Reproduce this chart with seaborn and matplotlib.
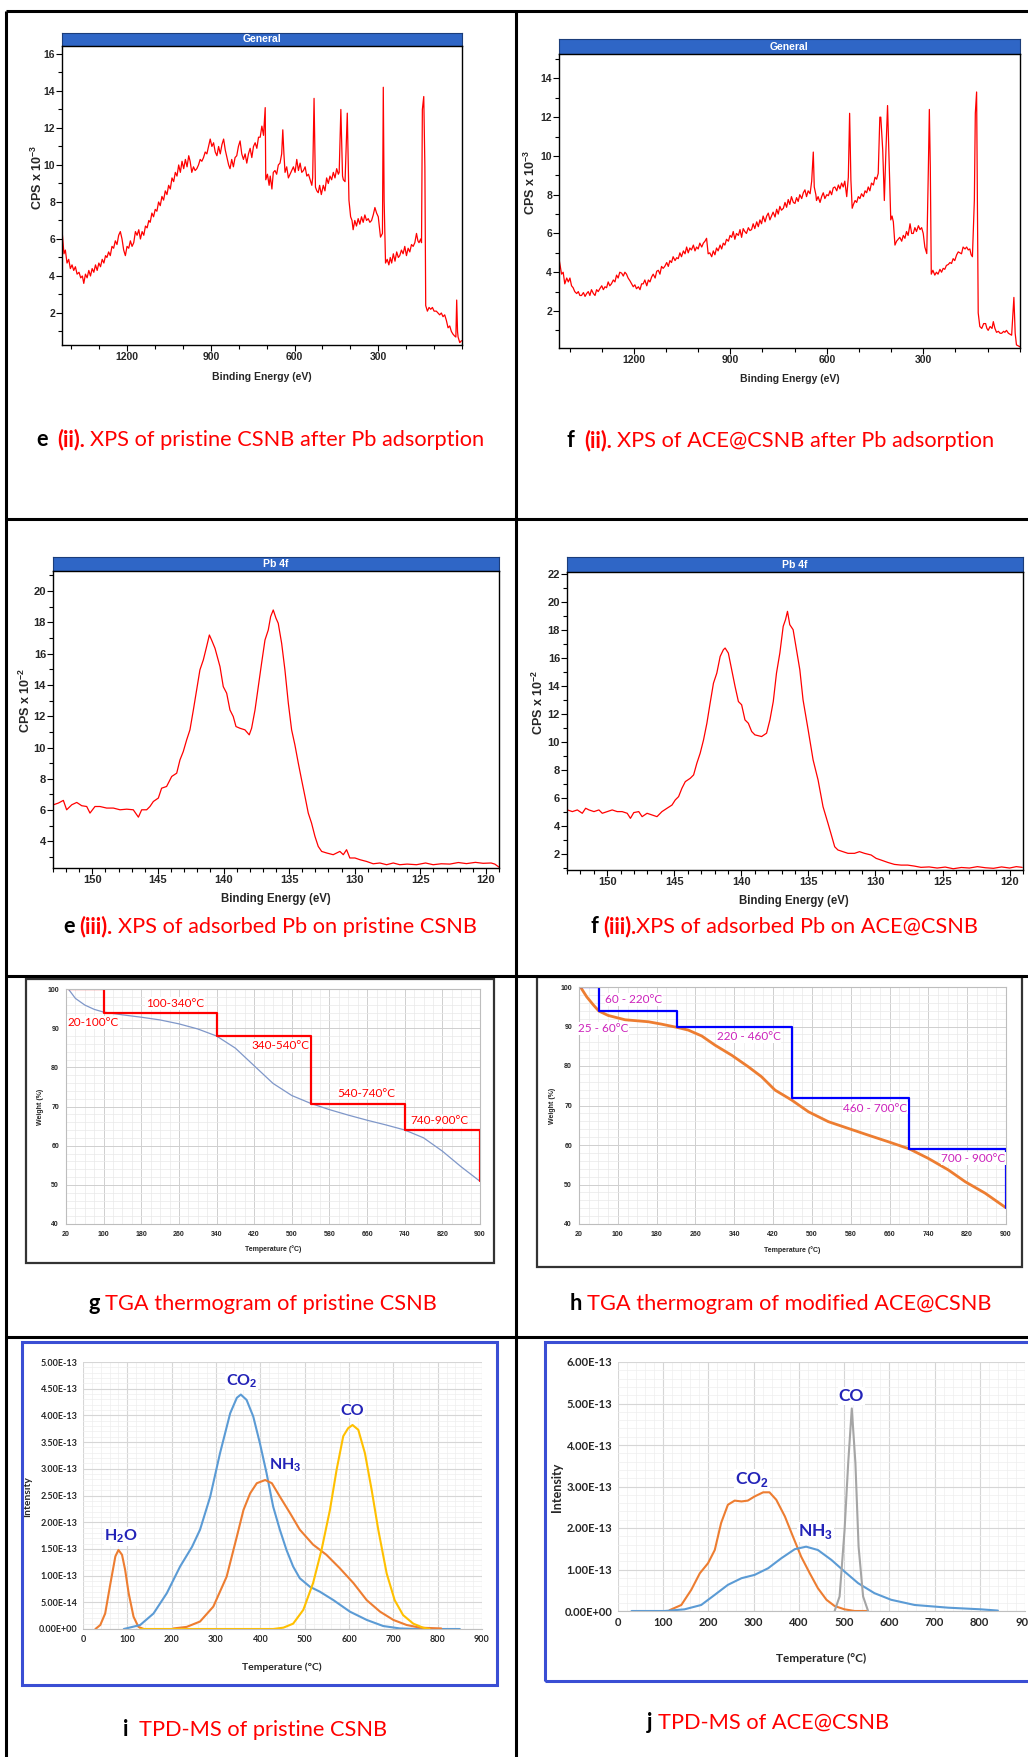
import numpy as np
import seaborn as sns
import matplotlib.pyplot as plt
from matplotlib.lines import Line2D
from matplotlib.patches import Rectangle
from matplotlib.ticker import MultipleLocator


# -------------------------------------------------
# CONFIG
# -------------------------------------------------
W, H = 1028, 1757
DPI = 100
OUTPUT_PATH = "out.png"

XPS_FONT = "Liberation Sans"
LABEL_FONT = "Lato"
CAPTION_SIZE = 15.7
RED = "#FF0000"


# -------------------------------------------------
# DATA : XPS survey spectra (binding energy eV, CPS x 10^-3)
# -------------------------------------------------
E2_EV = [1432, 1428, 1426, 1421, 1415, 1409, 1403, 1397, 1391, 1385,
         1379, 1372, 1366, 1360, 1355, 1349, 1343, 1337, 1331, 1325,
         1319, 1313, 1307, 1301, 1295, 1289, 1283, 1277, 1272, 1266,
         1260, 1254, 1248, 1242, 1236, 1230, 1224, 1218, 1212, 1206,
         1200, 1194, 1188, 1182, 1176, 1170, 1164, 1158, 1152, 1146,
         1140, 1134, 1128, 1122, 1117, 1111, 1105, 1099, 1093, 1087,
         1081, 1075, 1069, 1063, 1057, 1051, 1045, 1039, 1033, 1027,
         1021, 1015, 1009, 1003, 997, 991, 985, 979, 974, 968,
         962, 956, 950, 944, 938, 932, 926, 920, 914, 908,
         902, 896, 890, 884, 878, 872, 866, 860, 854, 848,
         842, 836, 831, 825, 819, 813, 807, 801, 795, 789,
         783, 777, 771, 765, 759, 753, 747, 741, 735, 729,
         723, 717, 711, 705, 703, 697, 691, 687, 681, 676,
         670, 664, 658, 652, 646, 642, 638, 634, 628, 622,
         616, 610, 604, 598, 592, 586, 580, 574, 568, 562,
         556, 550, 544, 538, 535, 530, 525, 520, 515, 510,
         504, 497, 491, 485, 479, 473, 467, 461, 455, 449,
         443, 440, 434, 428, 425, 419, 411, 405, 399, 394,
         390, 384, 378, 372, 366, 360, 354, 348, 342, 336,
         330, 324, 318, 312, 306, 300, 292, 285, 282, 279,
         274, 268, 262, 257, 252, 246, 240, 234, 228, 223,
         217, 211, 205, 199, 193, 187, 181, 175, 169, 163,
         158, 154, 148, 145, 142, 137, 133, 130, 124, 118,
         112, 106, 100, 92, 86, 80, 74, 68, 62, 56,
         50, 44, 38, 32, 26, 22, 19, 16, 14, 8,
         2]
E2_CPS = [6.3, 5.6, 5.2, 5.4, 4.7, 4.9, 4.4, 4.6, 4.3, 4.5,
          4.1, 4.2, 3.9, 4.0, 3.6, 4.1, 3.9, 4.3, 4.0, 4.4,
          4.2, 4.6, 4.3, 4.7, 4.5, 4.9, 4.7, 5.1, 5.0, 5.3,
          5.1, 5.6, 5.5, 5.9, 5.7, 6.2, 6.4, 6.0, 5.4, 5.1,
          5.6, 5.5, 5.9, 5.6, 5.8, 6.4, 6.2, 6.5, 6.0, 6.4,
          6.2, 6.7, 6.6, 7.0, 6.9, 7.4, 7.2, 7.6, 7.5, 8.0,
          7.8, 8.3, 8.1, 8.6, 8.4, 8.9, 8.7, 9.3, 9.1, 9.6,
          9.4, 10.0, 9.6, 10.2, 9.8, 10.3, 9.9, 10.5, 10.2, 9.6,
          9.9, 9.7, 9.8, 10.0, 10.3, 10.2, 10.4, 10.7, 10.6, 11.0,
          11.4, 11.0, 11.2, 10.7, 10.5, 11.0, 10.6, 11.1, 11.4, 10.8,
          10.4, 10.0, 9.8, 10.3, 9.9, 10.4, 10.5, 11.0, 11.3, 10.6,
          10.3, 10.6, 10.1, 10.6, 10.9, 10.4, 11.0, 11.2, 10.9, 11.5,
          11.5, 12.1, 11.6, 13.1, 9.2, 9.5, 8.9, 9.4, 8.7, 9.6,
          9.7, 9.5, 10.0, 10.1, 10.6, 11.9, 10.6, 9.6, 9.9, 9.3,
          9.5, 9.7, 9.9, 9.6, 10.3, 9.7, 10.1, 9.6, 9.7, 9.9,
          9.4, 9.5, 9.2, 8.9, 9.3, 13.6, 8.8, 8.6, 8.5, 8.9,
          8.4, 8.9, 8.6, 9.3, 9.0, 9.4, 9.2, 9.6, 9.3, 9.8,
          9.5, 9.6, 13.0, 9.4, 9.2, 9.1, 12.8, 8.1, 7.2, 7.0,
          6.5, 7.0, 6.7, 7.1, 6.8, 7.2, 6.9, 7.3, 7.0, 7.1,
          6.9, 7.0, 7.3, 7.7, 7.4, 7.2, 6.1, 6.3, 14.2, 8.1,
          4.7, 4.9, 4.6, 5.0, 4.7, 5.2, 4.8, 5.3, 5.0, 5.1,
          5.4, 5.2, 5.6, 5.1, 5.5, 5.3, 5.7, 5.6, 5.8, 6.3,
          5.9, 5.8, 6.0, 5.8, 13.0, 13.7, 9.9, 2.4, 2.1, 2.3,
          2.2, 2.3, 2.1, 2.1, 2.0, 1.9, 2.0, 1.8, 1.9, 1.6,
          1.2, 1.3, 1.0, 0.85, 0.75, 0.7, 2.7, 1.0, 0.7, 0.4,
          0.5]

F2_EV = [1433, 1429, 1425, 1420, 1415, 1409, 1404, 1399, 1394, 1389,
         1384, 1378, 1373, 1368, 1363, 1357, 1352, 1347, 1342, 1337,
         1332, 1326, 1321, 1316, 1311, 1306, 1300, 1295, 1290, 1285,
         1280, 1275, 1270, 1264, 1259, 1254, 1249, 1244, 1238, 1233,
         1228, 1223, 1218, 1212, 1207, 1202, 1197, 1192, 1186, 1181,
         1176, 1171, 1166, 1160, 1155, 1150, 1145, 1140, 1134, 1129,
         1124, 1119, 1114, 1109, 1104, 1098, 1093, 1088, 1083, 1078,
         1072, 1067, 1062, 1057, 1052, 1046, 1041, 1036, 1031, 1026,
         1021, 1015, 1010, 1005, 1000, 995, 989, 984, 979, 974,
         969, 964, 958, 953, 948, 943, 938, 932, 927, 922,
         917, 912, 906, 901, 896, 891, 886, 881, 875, 870,
         865, 860, 855, 850, 844, 839, 834, 829, 824, 818,
         813, 808, 803, 798, 792, 787, 782, 777, 772, 767,
         761, 756, 751, 746, 741, 735, 730, 725, 720, 715,
         710, 704, 699, 694, 689, 684, 678, 673, 668, 663,
         658, 652, 647, 642, 639, 634, 632, 627, 621, 616,
         611, 606, 600, 595, 590, 585, 580, 575, 569, 564,
         559, 554, 549, 544, 538, 533, 529, 525, 521, 517,
         512, 507, 502, 497, 492, 486, 481, 476, 471, 466,
         461, 455, 450, 445, 440, 435, 432, 426, 421, 416,
         411, 407, 401, 397, 393, 388, 383, 378, 373, 367,
         362, 357, 352, 347, 341, 336, 331, 326, 321, 315,
         310, 305, 300, 295, 289, 284, 281, 278, 275, 270,
         264, 259, 254, 248, 243, 238, 233, 228, 222, 217,
         212, 207, 202, 196, 191, 186, 181, 176, 170, 165,
         160, 155, 151, 147, 141, 138, 134, 131, 129, 124,
         118, 112, 106, 102, 98, 92, 86, 82, 77, 72,
         66, 61, 56, 50, 46, 41, 35, 30, 25, 18,
         14, 10, -1]
F2_CPS = [4.7, 4.3, 3.9, 4.0, 3.4, 3.7, 3.5, 3.7, 3.3, 3.2,
          3.0, 2.9, 3.0, 2.8, 2.8, 2.95, 2.75, 2.9, 3.0, 2.8,
          3.1, 2.9, 2.8, 3.1, 3.0, 3.15, 3.3, 3.1, 3.25, 3.2,
          3.5, 3.3, 3.4, 3.6, 3.5, 3.85, 3.7, 4.0, 3.95, 3.8,
          4.0, 3.9, 3.7, 3.55, 3.4, 3.25, 3.35, 3.15, 3.25, 3.1,
          3.4, 3.4, 3.6, 3.3, 3.6, 3.5, 3.75, 3.9, 3.7, 4.05,
          4.1, 3.9, 4.3, 4.2, 4.3, 4.5, 4.3, 4.6, 4.5, 4.8,
          4.6, 4.75, 4.7, 5.0, 4.8, 5.1, 4.95, 5.3, 5.0, 5.25,
          5.15, 5.4, 5.1, 5.3, 5.2, 5.5, 5.3, 5.5, 5.6, 5.75,
          4.95, 5.0, 4.8, 5.1, 4.9, 5.25, 5.1, 5.4, 5.2, 5.5,
          5.4, 5.7, 5.6, 5.9, 5.8, 6.1, 5.7, 6.0, 5.9, 6.2,
          5.8, 6.25, 6.1, 6.0, 6.3, 6.15, 6.2, 6.5, 6.25, 6.6,
          6.35, 6.7, 6.5, 6.9, 6.6, 6.9, 7.05, 6.7, 6.9, 7.1,
          6.85, 7.25, 7.0, 7.4, 7.2, 7.3, 7.6, 7.35, 7.75, 7.5,
          7.9, 7.6, 7.55, 7.85, 7.65, 8.0, 7.8, 8.1, 8.25, 7.9,
          8.2, 8.05, 8.7, 10.2, 8.4, 8.0, 7.7, 7.9, 7.6, 7.9,
          8.1, 7.8, 8.0, 7.95, 8.2, 8.0, 8.35, 8.4, 8.2, 8.5,
          8.3, 8.6, 8.4, 8.7, 7.9, 8.9, 12.2, 8.75, 7.3, 7.5,
          7.7, 7.6, 7.9, 7.8, 8.05, 7.9, 8.2, 8.1, 8.4, 8.2,
          8.6, 8.5, 8.9, 8.8, 9.1, 12.0, 12.0, 10.3, 7.7, 10.3,
          12.6, 10.3, 6.7, 6.9, 6.6, 5.4, 5.6, 5.7, 5.8, 5.6,
          5.9, 5.75, 6.1, 5.9, 6.5, 6.0, 6.0, 6.3, 6.1, 6.4,
          6.2, 6.3, 6.0, 5.3, 4.96, 9.4, 12.4, 9.4, 3.9, 4.1,
          3.85, 4.0, 3.9, 4.15, 4.0, 4.2, 4.15, 4.35, 4.4, 4.5,
          4.45, 4.7, 4.6, 4.9, 5.05, 5.0, 4.95, 5.3, 5.2, 5.3,
          5.15, 5.2, 4.9, 4.8, 7.7, 12.2, 13.3, 6.9, 1.9, 1.2,
          1.1, 1.35, 1.35, 1.1, 1.0, 1.2, 1.1, 1.45, 1.1, 0.9,
          0.95, 0.85, 0.85, 0.95, 0.9, 1.0, 0.85, 0.8, 0.75, 2.7,
          0.85, 0.25, 0.15]


# -------------------------------------------------
# DATA : Pb 4f spectra (binding energy eV, CPS x 10^-2)
# -------------------------------------------------
E3_EV = [152.97, 152.59, 152.21, 151.96, 151.57, 151.19, 150.81, 150.43, 150.18, 149.80,
         149.42, 148.91, 148.40, 147.89, 147.38, 146.88, 146.49, 146.24, 145.86, 145.61,
         145.35, 144.97, 144.72, 144.34, 143.95, 143.57, 143.32, 143.07, 142.81, 142.56,
         142.30, 142.05, 141.80, 141.54, 141.29, 141.08, 140.91, 140.65, 140.27, 140.02,
         139.76, 139.51, 139.26, 139.05, 138.75, 138.37, 138.04, 137.86, 137.60, 137.35,
         137.10, 136.84, 136.59, 136.41, 136.21, 136.00, 135.83, 135.57, 135.32, 135.06,
         134.81, 134.56, 134.30, 134.05, 133.79, 133.54, 133.29, 133.03, 132.78, 132.52,
         132.14, 131.64, 131.13, 130.87, 130.62, 130.37, 129.98, 129.60, 129.10, 128.59,
         128.08, 127.57, 127.06, 126.56, 126.0, 125.29, 124.6, 124.02, 123.4, 122.75,
         122.1, 121.48, 120.8, 120.21, 119.6, 119.32, 119.01]
E3_CPS = [6.34, 6.45, 6.62, 6.02, 6.34, 6.49, 6.28, 6.23, 5.81, 6.23,
          6.23, 6.13, 6.13, 6.02, 6.06, 6.02, 5.55, 6.02, 6.02, 6.23,
          6.55, 6.77, 7.40, 7.51, 8.15, 8.36, 9.21, 9.74, 10.49, 11.13,
          12.40, 13.68, 14.96, 15.60, 16.45, 17.19, 16.87, 16.34, 15.17, 13.89,
          13.47, 12.40, 11.98, 11.34, 11.23, 11.13, 10.81, 11.23, 12.40, 13.89,
          15.38, 16.87, 17.51, 18.36, 18.79, 18.26, 17.94, 16.66, 14.96, 12.83,
          11.13, 10.17, 9.00, 7.94, 6.87, 5.81, 5.17, 4.32, 3.68, 3.36,
          3.26, 3.15, 3.36, 3.15, 3.47, 2.94, 2.94, 2.83, 2.72, 2.57,
          2.62, 2.51, 2.62, 2.51, 2.55, 2.51, 2.62, 2.51, 2.57, 2.55,
          2.65, 2.58, 2.66, 2.60, 2.62, 2.55, 2.36]

F3_EV = [152.97, 152.60, 152.23, 151.86, 151.61, 151.36, 150.99, 150.62, 150.37, 150.00,
         149.63, 149.26, 148.89, 148.51, 148.27, 148.02, 147.65, 147.40, 147.03, 146.66,
         146.29, 145.92, 145.54, 145.17, 144.93, 144.68, 144.43, 144.18, 143.81, 143.56,
         143.32, 143.07, 142.82, 142.57, 142.33, 142.08, 141.83, 141.58, 141.34, 141.21,
         140.97, 140.72, 140.47, 140.22, 139.98, 139.73, 139.48, 139.23, 138.99, 138.49,
         138.12, 137.87, 137.62, 137.38, 137.13, 136.88, 136.71, 136.56, 136.39, 136.14,
         135.89, 135.64, 135.40, 135.02, 134.65, 134.28, 133.91, 133.54, 133.29, 133.04,
         132.80, 132.43, 132.05, 131.56, 131.19, 130.82, 130.32, 129.95, 129.58, 129.08,
         128.59, 128.09, 127.60, 127.10, 126.61, 126.0, 125.4, 124.8, 124.2, 123.6,
         123.0, 122.4, 121.8, 121.2, 120.6, 120.0, 119.5, 119.06]
F3_CPS = [5.15, 5.03, 5.15, 4.91, 5.27, 5.15, 5.03, 5.15, 4.91, 5.03,
          5.15, 5.03, 5.03, 4.91, 4.55, 4.96, 5.03, 4.67, 4.91, 4.79,
          4.67, 5.03, 5.27, 5.50, 5.86, 6.10, 6.70, 7.17, 7.41, 7.65,
          8.48, 9.20, 10.15, 11.34, 12.77, 14.20, 14.92, 16.11, 16.59, 16.71,
          16.35, 15.16, 13.97, 12.89, 12.66, 11.58, 11.34, 10.75, 10.51, 10.39,
          10.63, 11.58, 12.89, 14.92, 16.35, 18.26, 18.73, 19.33, 18.38, 18.02,
          16.59, 15.16, 13.01, 10.87, 8.72, 7.29, 5.38, 4.19, 3.36, 2.52,
          2.29, 2.17, 2.05, 2.05, 2.17, 2.05, 1.93, 1.69, 1.57, 1.40,
          1.26, 1.21, 1.21, 1.14, 1.05, 1.08, 1.00, 1.07, 0.95, 1.04,
          1.00, 1.10, 1.02, 0.98, 1.08, 1.00, 1.10, 1.05]


# -------------------------------------------------
# DATA : TGA thermograms (temperature C, weight %)
# -------------------------------------------------
G_TEMP = [25, 40, 60, 80, 100, 140, 180, 220, 260, 300, 340, 380, 420,
          460, 500, 540, 580, 620, 660, 700, 740, 780, 820, 860, 900]
G_WEIGHT = [100, 97.6, 95.9, 94.8, 94.1, 93.4, 92.8, 92.1, 91.1, 89.8, 88.0, 84.9, 80.4,
            75.9, 72.8, 70.8, 69.2, 67.8, 66.5, 65.3, 64.0, 62.0, 58.6, 54.6, 50.9]
G_STEP_T = [25, 100, 340, 540, 740, 900]
G_STEP_W = [100, 94.0, 88.0, 70.7, 64.0, 51.0]
G_LABELS = ["20-100°C", "100-340°C", "340-540°C", "540-740°C", "740-900°C"]
G_LABEL_X = [78, 252, 475, 659, 813]
G_LABEL_Y = [91.4, 96.3, 85.6, 73.4, 66.3]

H_TEMP = [23, 36, 50, 61, 80, 115, 163, 190, 221, 245, 273, 300, 335, 369,
          396, 424, 458, 493, 534, 575, 616, 658, 701, 740, 781, 816, 857, 900]
H_WEIGHT = [100, 97.5, 95.4, 93.9, 92.8, 91.7, 91.2, 90.6, 89.8, 89.1, 87.6, 85.3, 82.7, 79.8,
            77.3, 73.9, 71.4, 68.4, 65.9, 64.2, 62.5, 60.8, 59.0, 56.6, 53.7, 50.7, 47.8, 44.1]
H_STEP_T = [23, 61, 221, 458, 701, 900]
H_STEP_W = [100, 93.9, 89.8, 71.8, 59.1, 44.1]
H_LABELS = ["60 - 220°C", "25 - 60°C", "220 - 460°C", "460 - 700°C", "700 - 900°C"]
H_LABEL_X = [133, 70, 370, 631, 833]
H_LABEL_Y = [96.8, 89.5, 87.4, 69.3, 56.6]


# -------------------------------------------------
# DATA : TPD-MS (temperature C, intensity in units of 1E-13)
# -------------------------------------------------
I_H2O_T = [28, 39, 50, 62, 73, 80, 88, 95, 103, 114, 125, 137]
I_H2O = [0, 0.075, 0.29, 0.86, 1.36, 1.48, 1.39, 1.11, 0.67, 0.23, 0.04, 0]
I_CO2_T = [92, 129, 159, 189, 219, 246, 264, 287, 309, 332, 347, 356, 369, 384, 399,
           414, 429, 444, 459, 474, 489, 512, 534, 565, 602, 640, 677, 715, 752, 850]
I_CO2 = [0, 0.075, 0.29, 0.67, 1.17, 1.54, 1.86, 2.48, 3.29, 4.04, 4.33, 4.39, 4.29, 3.98, 3.48,
         2.92, 2.29, 1.86, 1.48, 1.17, 0.95, 0.79, 0.70, 0.54, 0.325, 0.17, 0.056, 0.01, 0, 0]
I_NH3_T = [204, 234, 264, 294, 324, 347, 362, 377, 392, 411, 426, 444,
           467, 489, 519, 549, 579, 610, 640, 670, 700, 730, 760, 808]
I_NH3 = [0.01, 0.04, 0.14, 0.42, 0.98, 1.73, 2.23, 2.54, 2.73, 2.79, 2.73, 2.48,
         2.17, 1.86, 1.58, 1.39, 1.14, 0.86, 0.54, 0.325, 0.17, 0.075, 0.025, 0.01]
I_CO_T = [129, 429, 452, 474, 497, 519, 538, 557, 572, 587, 598,
          608, 621, 636, 651, 666, 685, 703, 722, 745, 767, 782]
I_CO = [0, 0, 0.025, 0.1, 0.36, 0.86, 1.48, 2.23, 2.98, 3.61, 3.76,
        3.82, 3.73, 3.29, 2.61, 1.86, 1.04, 0.54, 0.26, 0.1, 0.025, 0]
I_LABELS = ["H$_\\mathbf{2}$O", "CO$_\\mathbf{2}$", "NH$_\\mathbf{3}$", "CO"]
I_LABEL_X = [86, 358, 456, 607]
I_LABEL_Y = [1.73, 4.65, 3.06, 4.09]

J_CO2_T = [114, 140, 162, 181, 199, 214, 228, 243, 258, 273, 287, 302, 321,
           335, 350, 369, 387, 405, 424, 442, 461, 479, 501, 523, 551]
J_CO2 = [0.02, 0.145, 0.51, 0.91, 1.15, 1.47, 2.12, 2.56, 2.66, 2.64, 2.66, 2.76, 2.86,
         2.86, 2.68, 2.28, 1.79, 1.31, 0.91, 0.55, 0.27, 0.12, 0.04, 0, 0]
J_NH3_T = [30, 103, 147, 184, 214, 243, 273, 302, 332, 361, 391,
           416, 442, 472, 501, 531, 567, 604, 656, 730, 803, 840]
J_NH3 = [0, 0, 0.04, 0.145, 0.39, 0.63, 0.79, 0.87, 1.03, 1.27, 1.49,
         1.55, 1.47, 1.23, 0.95, 0.67, 0.43, 0.27, 0.145, 0.08, 0.04, 0.01]
J_CO_T = [479, 490, 501, 509, 517, 525, 532, 542, 553]
J_CO = [0, 0.35, 1.95, 3.56, 4.88, 3.56, 1.55, 0.35, 0]
J_LABELS = ["CO", "CO$_\\mathbf{2}$", "NH$_\\mathbf{3}$"]
J_LABEL_X = [516, 296, 437]
J_LABEL_Y = [5.18, 3.18, 1.91]


# -------------------------------------------------
# LAYOUT HELPERS (pixel boxes -> figure fractions)
# -------------------------------------------------
def px_axes(fig, x0, y0, x1, y1):
    return fig.add_axes([x0 / W, 1 - y1 / H, (x1 - x0) / W, (y1 - y0) / H])


def fig_line(fig, x0, y0, x1, y1, color="black", lw=2.2):
    fig.add_artist(Line2D([x0 / W, x1 / W], [1 - y0 / H, 1 - y1 / H],
                          transform=fig.transFigure, color=color, lw=lw,
                          solid_capstyle="butt"))


def fig_frame(fig, x0, y0, x1, y1, color, lw):
    fig.add_artist(Rectangle((x0 / W, 1 - y1 / H), (x1 - x0) / W, (y1 - y0) / H,
                             transform=fig.transFigure, fill=False,
                             edgecolor=color, lw=lw))


def place_axis_labels(ax, box, xlab_px, ylab_px):
    x0, y0, x1, y1 = box
    ax.xaxis.set_label_coords((xlab_px[0] - x0) / (x1 - x0), (y1 - xlab_px[1]) / (y1 - y0))
    ax.yaxis.set_label_coords((ylab_px[0] - x0) / (x1 - x0), (y1 - ylab_px[1]) / (y1 - y0))
    ax.xaxis.label.set_verticalalignment("center")
    ax.yaxis.label.set_verticalalignment("center")


def caption(fig, cx, baseline, parts, size=CAPTION_SIZE):
    renderer = fig.canvas.get_renderer()
    space = size * DPI / 72 * 0.226
    texts, widths = [], []
    for text, color, weight, gap in parts:
        t = fig.text(0, 1 - baseline / H, text, color=color, fontweight=weight,
                     fontsize=size, family=LABEL_FONT, ha="left", va="baseline")
        texts.append(t)
        widths.append(t.get_window_extent(renderer).width + gap * space)
    x = cx - sum(widths) / 2
    for t, w in zip(texts, widths):
        t.set_x(x / W)
        x += w


# -------------------------------------------------
# XPS PANEL
# -------------------------------------------------
def plot_xps(fig, box, bar_top, title, ev, cps, xlim, ylim, x_major, x_minor,
             y_major, exponent, xlab_px, ylab_px, tick_size, label_size):
    x0, y0, x1, y1 = box
    bar = px_axes(fig, x0, bar_top, x1, y0)
    bar.set_facecolor("#2F66C6")
    bar.set_xticks([])
    bar.set_yticks([])
    for s in bar.spines.values():
        s.set_color("#1B3D7A")
        s.set_linewidth(0.8)
    bar.text(0.5, 0.5, title, color="white", fontweight="bold", fontsize=7.5,
             ha="center", va="center", transform=bar.transAxes)

    ax = px_axes(fig, *box)
    sns.lineplot(x=ev, y=cps, ax=ax, color=RED, linewidth=0.9,
                 estimator=None, sort=False)
    ax.set_xlim(*xlim)
    ax.set_ylim(*ylim)
    ax.set_xticks(x_major)
    ax.set_xticklabels([str(v) for v in x_major], fontweight="bold")
    ax.xaxis.set_minor_locator(MultipleLocator(x_minor))
    ax.set_yticks(y_major)
    ax.set_yticklabels([str(v) for v in y_major], fontweight="bold")
    ax.yaxis.set_minor_locator(MultipleLocator(1))
    ax.tick_params(which="both", direction="out", width=0.8, color="black",
                   labelsize=tick_size, pad=1)
    ax.tick_params(which="major", length=4)
    ax.tick_params(which="minor", length=3)
    for s in ax.spines.values():
        s.set_color("black")
        s.set_linewidth(1.0)
    ax.set_xlabel("Binding Energy (eV)", fontweight="bold", fontsize=label_size)
    ax.set_ylabel("CPS x 10$^{\\mathbf{" + exponent + "}}$", fontweight="bold",
                  fontsize=9)
    place_axis_labels(ax, box, xlab_px, ylab_px)


# -------------------------------------------------
# TGA PANEL
# -------------------------------------------------
def plot_tga(fig, box, frame, temp, weight, curve_color, curve_lw, step_t, step_w,
             step_color, labels, label_x, label_y, label_color, xlab_px, ylab_px):
    fig_frame(fig, *frame, color="#333333", lw=1.6)
    ax = px_axes(fig, *box)
    sns.lineplot(x=temp, y=weight, ax=ax, color=curve_color, linewidth=curve_lw,
                 estimator=None, sort=False)
    sns.lineplot(x=step_t, y=step_w, ax=ax, color=step_color, linewidth=1.6,
                 estimator=None, sort=False, drawstyle="steps-post")
    ax.set_xlim(20, 900)
    ax.set_ylim(40, 100)
    xt = list(range(20, 901, 80))
    yt = list(range(40, 101, 10))
    ax.set_xticks(xt)
    ax.set_xticklabels([str(v) for v in xt], fontweight="bold")
    ax.set_yticks(yt)
    ax.set_yticklabels([str(v) for v in yt], fontweight="bold")
    ax.xaxis.set_minor_locator(MultipleLocator(20))
    ax.yaxis.set_minor_locator(MultipleLocator(2))
    ax.tick_params(which="both", length=0, labelsize=5, pad=5)
    ax.grid(which="major", color="#cfcfcf", linewidth=0.7)
    ax.grid(which="minor", color="#e9e9e9", linewidth=0.5)
    ax.set_axisbelow(True)
    for s in ax.spines.values():
        s.set_color("#bdbdbd")
        s.set_linewidth(0.8)
    for text, x, y in zip(labels, label_x, label_y):
        ax.text(x, y, text, color=label_color, fontsize=8.5, family=LABEL_FONT,
                ha="center", va="center",
                bbox=dict(facecolor="white", edgecolor="none", pad=0.5))
    ax.set_xlabel("Temperature (°C)", fontweight="bold", fontsize=5)
    ax.set_ylabel("Weight (%)", fontweight="bold", fontsize=5)
    place_axis_labels(ax, box, xlab_px, ylab_px)


# -------------------------------------------------
# TPD-MS PANEL
# -------------------------------------------------
def plot_tpd(fig, box, frame, series, ymax, y_step, y_minor, labels, label_x, label_y,
             tick_size, xlab_size, ylab_size, label_size, xlab_px, ylab_px):
    fig_frame(fig, *frame, color="#3A4ED4", lw=2.2)
    ax = px_axes(fig, *box)
    for t, v, color in series:
        sns.lineplot(x=t, y=v, ax=ax, color=color, linewidth=1.5,
                     estimator=None, sort=False)
    ax.set_xlim(0, 900)
    ax.set_ylim(0, ymax)
    xt = list(range(0, 901, 100))
    yt = np.arange(0, ymax + 1e-9, y_step)
    ax.set_xticks(xt)
    ax.set_xticklabels([str(v) for v in xt], fontweight="bold", family=LABEL_FONT)
    ax.set_yticks(yt)
    ax.set_yticklabels([f"{v * 1e-13:.2E}" for v in yt], fontweight="bold",
                       family=LABEL_FONT)
    ax.xaxis.set_minor_locator(MultipleLocator(20))
    ax.yaxis.set_minor_locator(MultipleLocator(y_minor))
    ax.tick_params(which="both", length=0, labelsize=tick_size, pad=4)
    ax.grid(which="major", color="#d6d6d6", linewidth=0.8)
    ax.grid(which="minor", color="#eeeeee", linewidth=0.5)
    ax.set_axisbelow(True)
    for name in ["top", "right", "left"]:
        ax.spines[name].set_visible(False)
    ax.spines["bottom"].set_color("#bfbfbf")
    for text, x, y in zip(labels, label_x, label_y):
        ax.text(x, y, text, color="#2424B8", fontsize=label_size, fontweight="bold",
                family=LABEL_FONT, ha="center", va="center",
                bbox=dict(facecolor="white", edgecolor="none", pad=0.5))
    ax.set_xlabel("Temperature (°C)", fontweight="bold", fontsize=xlab_size,
                  family=LABEL_FONT)
    ax.set_ylabel("Intensity", fontweight="bold", fontsize=ylab_size,
                  family=LABEL_FONT)
    place_axis_labels(ax, box, xlab_px, ylab_px)


# -------------------------------------------------
# FIGURE
# -------------------------------------------------
sns.set_style("ticks")
plt.rcParams["font.family"] = [XPS_FONT, "DejaVu Sans"]
plt.rcParams["mathtext.fontset"] = "custom"
plt.rcParams["mathtext.rm"] = XPS_FONT
plt.rcParams["mathtext.bf"] = XPS_FONT + ":bold"

fig = plt.figure(figsize=(W / DPI, H / DPI), dpi=DPI, facecolor="white")

# table grid
for y in [11, 519, 976, 1337]:
    fig_line(fig, 6, y, W, y)
fig_line(fig, 6, 11, 6, H)
fig_line(fig, 516, 11, 516, H)

plot_xps(fig, (62, 46, 462, 345), 33, "General", E2_EV, E2_CPS, (1433, 0), (0.27, 16.43),
         [1200, 900, 600, 300], 100, list(range(2, 17, 2)), "-3",
         (262, 377), (37, 177), 7.5, 7.5)
plot_xps(fig, (559, 54, 1020, 348), 39, "General", F2_EV, F2_CPS, (1433, -1), (0.09, 15.26),
         [1200, 900, 600, 300], 100, list(range(2, 15, 2)), "-3",
         (790, 379), (530, 182), 7.5, 7.5)
plot_xps(fig, (53, 571, 499, 868), 557, "Pb 4f", E3_EV, E3_CPS, (153, 119), (2.30, 21.28),
         [150, 145, 140, 135, 130, 125, 120], 1, list(range(4, 21, 2)), "-2",
         (276, 899), (25, 700), 8.0, 8.3)
plot_xps(fig, (567, 572, 1023, 870), 557, "Pb 4f", F3_EV, F3_CPS, (153, 119), (0.86, 22.14),
         [150, 145, 140, 135, 130, 125, 120], 1, list(range(2, 23, 2)), "-2",
         (794, 901), (538, 702), 8.0, 8.3)

plot_tga(fig, (66, 989, 480, 1224), (26, 979, 494, 1263), G_TEMP, G_WEIGHT, "#7F97C9", 0.9,
         G_STEP_T, G_STEP_W, RED, G_LABELS, G_LABEL_X, G_LABEL_Y, RED,
         (273, 1249), (40, 1107))
plot_tga(fig, (579, 987, 1006, 1224), (537, 977, 1022, 1267), H_TEMP, H_WEIGHT, "#ED7D31", 2.0,
         H_STEP_T, H_STEP_W, "#0000FF", H_LABELS, H_LABEL_X, H_LABEL_Y, "#CC22BB",
         (792, 1250), (552, 1106))

plot_tpd(fig, (83, 1362, 482, 1629), (22, 1342, 497, 1685),
         [(I_H2O_T, I_H2O, "#ED7D31"), (I_CO2_T, I_CO2, "#5B9BD5"),
          (I_NH3_T, I_NH3, "#ED7D31"), (I_CO_T, I_CO, "#FFC000")],
         5.0, 0.5, 0.1, I_LABELS, I_LABEL_X, I_LABEL_Y,
         6.5, 7.5, 7.5, 11.5, (282, 1667), (28, 1497))
plot_tpd(fig, (618, 1362, 1025, 1611), (545, 1342, 1040, 1681),
         [(J_CO2_T, J_CO2, "#ED7D31"), (J_NH3_T, J_NH3, "#5B9BD5"),
          (J_CO_T, J_CO, "#A5A5A5")],
         6.0, 1.0, 0.2, J_LABELS, J_LABEL_X, J_LABEL_Y,
         8.0, 8.5, 9.0, 12.5, (821, 1658), (557, 1487))

# captions
caption(fig, 260, 446, [("e", "black", "bold", 2), ("(ii).", RED, "bold", 1),
                        ("XPS of pristine CSNB after Pb adsorption", RED, "normal", 0)])
caption(fig, 780, 447, [("f", "black", "bold", 2), ("(ii).", RED, "bold", 1),
                        ("XPS of ACE@CSNB after Pb adsorption", RED, "normal", 0)])
caption(fig, 270, 933, [("e", "black", "bold", 1), ("(iii).", RED, "bold", 1),
                        ("XPS of adsorbed Pb on pristine CSNB", RED, "normal", 0)])
caption(fig, 784, 933, [("f", "black", "bold", 1), ("(iii).", RED, "bold", 0),
                        ("XPS of adsorbed Pb on ACE@CSNB", RED, "normal", 0)])
caption(fig, 263, 1310, [("g", "black", "bold", 1),
                         ("TGA thermogram of pristine CSNB", RED, "normal", 0)])
caption(fig, 781, 1310, [("h", "black", "bold", 1),
                         ("TGA thermogram of modified ACE@CSNB", RED, "normal", 0)])
caption(fig, 255, 1736, [("i", "black", "bold", 2),
                         ("TPD-MS of pristine CSNB", RED, "normal", 0)])
caption(fig, 768, 1729, [("j", "black", "bold", 1),
                         ("TPD-MS of ACE@CSNB", RED, "normal", 0)])

plt.savefig(OUTPUT_PATH, dpi=DPI, facecolor="white")
